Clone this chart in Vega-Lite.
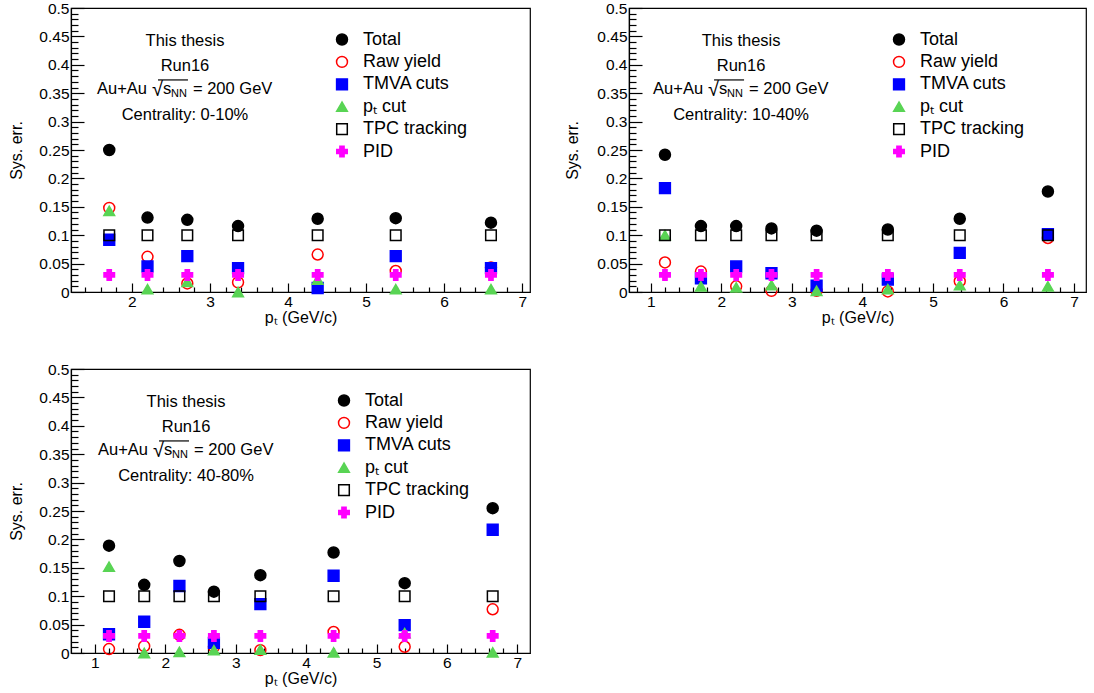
{
  "$schema": "https://vega.github.io/schema/vega-lite/v6.json",
  "background": "white",
  "padding": {"left": 8, "top": 0, "right": 0, "bottom": 0},
  "config": {
    "font": "Liberation Sans",
    "view": {"stroke": "#000000", "strokeWidth": 1.2},
    "axis": {"grid": false, "domainColor": "#000000", "tickColor": "#000000", "labelColor": "#000000", "titleColor": "#000000", "labelFont": "Liberation Sans", "titleFont": "Liberation Sans", "titleFontWeight": "normal", "labelOverlap": false, "labelFlush": false, "domainWidth": 1.2, "tickWidth": 1.2, "tickCount": 500},
    "legend": {"labelFont": "Liberation Sans"},
    "text": {"font": "Liberation Sans", "color": "#000000"}
  },
  "datasets": {
    "pts": [
      {"c": "c1", "pt": 1.71, "s": "Total", "v": 0.25},
      {"c": "c1", "pt": 2.2, "s": "Total", "v": 0.131},
      {"c": "c1", "pt": 2.71, "s": "Total", "v": 0.127},
      {"c": "c1", "pt": 3.36, "s": "Total", "v": 0.116},
      {"c": "c1", "pt": 4.38, "s": "Total", "v": 0.129},
      {"c": "c1", "pt": 5.38, "s": "Total", "v": 0.13},
      {"c": "c1", "pt": 6.6, "s": "Total", "v": 0.122},
      {"c": "c1", "pt": 1.71, "s": "Raw yield", "v": 0.148},
      {"c": "c1", "pt": 2.2, "s": "Raw yield", "v": 0.062},
      {"c": "c1", "pt": 2.71, "s": "Raw yield", "v": 0.015},
      {"c": "c1", "pt": 3.36, "s": "Raw yield", "v": 0.017},
      {"c": "c1", "pt": 4.38, "s": "Raw yield", "v": 0.066},
      {"c": "c1", "pt": 5.38, "s": "Raw yield", "v": 0.037},
      {"c": "c1", "pt": 6.6, "s": "Raw yield", "v": 0.043},
      {"c": "c1", "pt": 1.71, "s": "TMVA cuts", "v": 0.092},
      {"c": "c1", "pt": 2.2, "s": "TMVA cuts", "v": 0.045},
      {"c": "c1", "pt": 2.71, "s": "TMVA cuts", "v": 0.063},
      {"c": "c1", "pt": 3.36, "s": "TMVA cuts", "v": 0.042},
      {"c": "c1", "pt": 4.38, "s": "TMVA cuts", "v": 0.007},
      {"c": "c1", "pt": 5.38, "s": "TMVA cuts", "v": 0.063},
      {"c": "c1", "pt": 6.6, "s": "TMVA cuts", "v": 0.042},
      {"c": "c1", "pt": 1.71, "s": "pT cut", "v": 0.143},
      {"c": "c1", "pt": 2.2, "s": "pT cut", "v": 0.005},
      {"c": "c1", "pt": 2.71, "s": "pT cut", "v": 0.018},
      {"c": "c1", "pt": 3.36, "s": "pT cut", "v": 0.0},
      {"c": "c1", "pt": 4.38, "s": "pT cut", "v": 0.022},
      {"c": "c1", "pt": 5.38, "s": "pT cut", "v": 0.005},
      {"c": "c1", "pt": 6.6, "s": "pT cut", "v": 0.005},
      {"c": "c1", "pt": 1.71, "s": "TPC tracking", "v": 0.1},
      {"c": "c1", "pt": 2.2, "s": "TPC tracking", "v": 0.1},
      {"c": "c1", "pt": 2.71, "s": "TPC tracking", "v": 0.1},
      {"c": "c1", "pt": 3.36, "s": "TPC tracking", "v": 0.1},
      {"c": "c1", "pt": 4.38, "s": "TPC tracking", "v": 0.1},
      {"c": "c1", "pt": 5.38, "s": "TPC tracking", "v": 0.1},
      {"c": "c1", "pt": 6.6, "s": "TPC tracking", "v": 0.1},
      {"c": "c1", "pt": 1.71, "s": "PID", "v": 0.03},
      {"c": "c1", "pt": 2.2, "s": "PID", "v": 0.03},
      {"c": "c1", "pt": 2.71, "s": "PID", "v": 0.03},
      {"c": "c1", "pt": 3.36, "s": "PID", "v": 0.03},
      {"c": "c1", "pt": 4.38, "s": "PID", "v": 0.03},
      {"c": "c1", "pt": 5.38, "s": "PID", "v": 0.03},
      {"c": "c1", "pt": 6.6, "s": "PID", "v": 0.03},

      {"c": "c2", "pt": 1.2, "s": "Total", "v": 0.2416},
      {"c": "c2", "pt": 1.71, "s": "Total", "v": 0.116},
      {"c": "c2", "pt": 2.21, "s": "Total", "v": 0.116},
      {"c": "c2", "pt": 2.71, "s": "Total", "v": 0.112},
      {"c": "c2", "pt": 3.35, "s": "Total", "v": 0.108},
      {"c": "c2", "pt": 4.36, "s": "Total", "v": 0.11},
      {"c": "c2", "pt": 5.38, "s": "Total", "v": 0.129},
      {"c": "c2", "pt": 6.63, "s": "Total", "v": 0.177},
      {"c": "c2", "pt": 1.2, "s": "Raw yield", "v": 0.052},
      {"c": "c2", "pt": 1.71, "s": "Raw yield", "v": 0.036},
      {"c": "c2", "pt": 2.21, "s": "Raw yield", "v": 0.01},
      {"c": "c2", "pt": 2.71, "s": "Raw yield", "v": 0.002},
      {"c": "c2", "pt": 3.35, "s": "Raw yield", "v": 0.002},
      {"c": "c2", "pt": 4.36, "s": "Raw yield", "v": 0.001},
      {"c": "c2", "pt": 5.38, "s": "Raw yield", "v": 0.019},
      {"c": "c2", "pt": 6.63, "s": "Raw yield", "v": 0.095},
      {"c": "c2", "pt": 1.2, "s": "TMVA cuts", "v": 0.183},
      {"c": "c2", "pt": 1.71, "s": "TMVA cuts", "v": 0.024},
      {"c": "c2", "pt": 2.21, "s": "TMVA cuts", "v": 0.045},
      {"c": "c2", "pt": 2.71, "s": "TMVA cuts", "v": 0.033},
      {"c": "c2", "pt": 3.35, "s": "TMVA cuts", "v": 0.011},
      {"c": "c2", "pt": 4.36, "s": "TMVA cuts", "v": 0.022},
      {"c": "c2", "pt": 5.38, "s": "TMVA cuts", "v": 0.069},
      {"c": "c2", "pt": 6.63, "s": "TMVA cuts", "v": 0.102},
      {"c": "c2", "pt": 1.2, "s": "pT cut", "v": 0.1},
      {"c": "c2", "pt": 1.71, "s": "pT cut", "v": 0.01},
      {"c": "c2", "pt": 2.21, "s": "pT cut", "v": 0.008},
      {"c": "c2", "pt": 2.71, "s": "pT cut", "v": 0.012},
      {"c": "c2", "pt": 3.35, "s": "pT cut", "v": 0.002},
      {"c": "c2", "pt": 4.36, "s": "pT cut", "v": 0.005},
      {"c": "c2", "pt": 5.38, "s": "pT cut", "v": 0.012},
      {"c": "c2", "pt": 6.63, "s": "pT cut", "v": 0.01},
      {"c": "c2", "pt": 1.2, "s": "TPC tracking", "v": 0.1},
      {"c": "c2", "pt": 1.71, "s": "TPC tracking", "v": 0.1},
      {"c": "c2", "pt": 2.21, "s": "TPC tracking", "v": 0.1},
      {"c": "c2", "pt": 2.71, "s": "TPC tracking", "v": 0.1},
      {"c": "c2", "pt": 3.35, "s": "TPC tracking", "v": 0.1},
      {"c": "c2", "pt": 4.36, "s": "TPC tracking", "v": 0.1},
      {"c": "c2", "pt": 5.38, "s": "TPC tracking", "v": 0.1},
      {"c": "c2", "pt": 6.63, "s": "TPC tracking", "v": 0.1},
      {"c": "c2", "pt": 1.2, "s": "PID", "v": 0.03},
      {"c": "c2", "pt": 1.71, "s": "PID", "v": 0.03},
      {"c": "c2", "pt": 2.21, "s": "PID", "v": 0.03},
      {"c": "c2", "pt": 2.71, "s": "PID", "v": 0.03},
      {"c": "c2", "pt": 3.35, "s": "PID", "v": 0.03},
      {"c": "c2", "pt": 4.36, "s": "PID", "v": 0.03},
      {"c": "c2", "pt": 5.38, "s": "PID", "v": 0.03},
      {"c": "c2", "pt": 6.63, "s": "PID", "v": 0.03},

      {"c": "c3", "pt": 1.2, "s": "Total", "v": 0.189},
      {"c": "c3", "pt": 1.7, "s": "Total", "v": 0.12},
      {"c": "c3", "pt": 2.2, "s": "Total", "v": 0.162},
      {"c": "c3", "pt": 2.69, "s": "Total", "v": 0.108},
      {"c": "c3", "pt": 3.35, "s": "Total", "v": 0.137},
      {"c": "c3", "pt": 4.39, "s": "Total", "v": 0.177},
      {"c": "c3", "pt": 5.4, "s": "Total", "v": 0.123},
      {"c": "c3", "pt": 6.65, "s": "Total", "v": 0.255},
      {"c": "c3", "pt": 1.2, "s": "Raw yield", "v": 0.007},
      {"c": "c3", "pt": 1.7, "s": "Raw yield", "v": 0.012},
      {"c": "c3", "pt": 2.2, "s": "Raw yield", "v": 0.032},
      {"c": "c3", "pt": 2.69, "s": "Raw yield", "v": 0.011},
      {"c": "c3", "pt": 3.35, "s": "Raw yield", "v": 0.005},
      {"c": "c3", "pt": 4.39, "s": "Raw yield", "v": 0.037},
      {"c": "c3", "pt": 5.4, "s": "Raw yield", "v": 0.011},
      {"c": "c3", "pt": 6.65, "s": "Raw yield", "v": 0.077},
      {"c": "c3", "pt": 1.2, "s": "TMVA cuts", "v": 0.033},
      {"c": "c3", "pt": 1.7, "s": "TMVA cuts", "v": 0.055},
      {"c": "c3", "pt": 2.2, "s": "TMVA cuts", "v": 0.118},
      {"c": "c3", "pt": 2.69, "s": "TMVA cuts", "v": 0.018},
      {"c": "c3", "pt": 3.35, "s": "TMVA cuts", "v": 0.086},
      {"c": "c3", "pt": 4.39, "s": "TMVA cuts", "v": 0.136},
      {"c": "c3", "pt": 5.4, "s": "TMVA cuts", "v": 0.049},
      {"c": "c3", "pt": 6.65, "s": "TMVA cuts", "v": 0.217},
      {"c": "c3", "pt": 1.2, "s": "pT cut", "v": 0.152},
      {"c": "c3", "pt": 1.7, "s": "pT cut", "v": 0.0},
      {"c": "c3", "pt": 2.2, "s": "pT cut", "v": 0.002},
      {"c": "c3", "pt": 2.69, "s": "pT cut", "v": 0.005},
      {"c": "c3", "pt": 3.35, "s": "pT cut", "v": 0.006},
      {"c": "c3", "pt": 4.39, "s": "pT cut", "v": 0.001},
      {"c": "c3", "pt": 5.4, "s": "pT cut", "v": 0.035},
      {"c": "c3", "pt": 6.65, "s": "pT cut", "v": 0.001},
      {"c": "c3", "pt": 1.2, "s": "TPC tracking", "v": 0.1},
      {"c": "c3", "pt": 1.7, "s": "TPC tracking", "v": 0.1},
      {"c": "c3", "pt": 2.2, "s": "TPC tracking", "v": 0.1},
      {"c": "c3", "pt": 2.69, "s": "TPC tracking", "v": 0.1},
      {"c": "c3", "pt": 3.35, "s": "TPC tracking", "v": 0.1},
      {"c": "c3", "pt": 4.39, "s": "TPC tracking", "v": 0.1},
      {"c": "c3", "pt": 5.4, "s": "TPC tracking", "v": 0.1},
      {"c": "c3", "pt": 6.65, "s": "TPC tracking", "v": 0.1},
      {"c": "c3", "pt": 1.2, "s": "PID", "v": 0.03},
      {"c": "c3", "pt": 1.7, "s": "PID", "v": 0.03},
      {"c": "c3", "pt": 2.2, "s": "PID", "v": 0.03},
      {"c": "c3", "pt": 2.69, "s": "PID", "v": 0.03},
      {"c": "c3", "pt": 3.35, "s": "PID", "v": 0.03},
      {"c": "c3", "pt": 4.39, "s": "PID", "v": 0.03},
      {"c": "c3", "pt": 5.4, "s": "PID", "v": 0.03},
      {"c": "c3", "pt": 6.65, "s": "PID", "v": 0.03}
    ],
    "ann": [
      {"c": "c1", "t": "This thesis", "pt": 2.68, "v": 0.4427},
      {"c": "c1", "t": "Run16", "pt": 2.68, "v": 0.3986},
      {"c": "c1", "t": "Centrality: 0-10%", "pt": 2.68, "v": 0.3116},
      {"c": "c2", "t": "This thesis", "pt": 2.279, "v": 0.4427},
      {"c": "c2", "t": "Run16", "pt": 2.279, "v": 0.3986},
      {"c": "c2", "t": "Centrality: 10-40%", "pt": 2.279, "v": 0.3116},
      {"c": "c3", "t": "This thesis", "pt": 2.294, "v": 0.4427},
      {"c": "c3", "t": "Run16", "pt": 2.294, "v": 0.3986},
      {"c": "c3", "t": "Centrality: 40-80%", "pt": 2.294, "v": 0.3116}
    ],
    "en": [
      {"c": "c1", "pt": 2.68, "v": 0.3575},
      {"c": "c2", "pt": 2.279, "v": 0.3575},
      {"c": "c3", "pt": 2.294, "v": 0.3575}
    ]
  },
  "bounds": "flush",
  "columns": 2,
  "spacing": {"row": 77, "column": 99},
  "resolve": {
    "scale": {"x": "independent", "shape": "independent", "stroke": "independent", "fill": "independent", "size": "independent"},
    "legend": {"shape": "independent", "stroke": "independent", "fill": "independent", "size": "independent"}
  },
  "concat": [
    {
      "width": 459, "height": 284,
      "resolve": {"axis": {"x": "independent", "y": "independent"}},
      "layer": [
        {
          "data": {"name": "pts"}, "transform": [{"filter": "datum.c == 'c1'"}],
          "mark": {"type": "point", "strokeWidth": 1.5, "opacity": 1},
          "encoding": {
            "x": {"field": "pt", "type": "quantitative", "scale": {"domain": [1.22, 7.1], "nice": false, "zero": false},
              "axis": {"orient": "bottom", "title": "pₜ (GeV/c)", "titleFontSize": 16, "labelFontSize": 15.5, "values": [2, 3, 4, 5, 6, 7], "format": "d", "tickSize": -9, "labelPadding": 11, "titlePadding": 0}},
            "y": {"field": "v", "type": "quantitative", "scale": {"domain": [0, 0.5], "nice": false},
              "axis": {"orient": "left", "title": "Sys. err.", "titleFontSize": 16, "labelFontSize": 15.5, "values": [0, 0.05, 0.1, 0.15, 0.2, 0.25, 0.3, 0.35, 0.4, 0.45, 0.5], "labelExpr": "format(datum.value, '~g')", "tickSize": -13, "labelPadding": 15, "titlePadding": 14}},
            "shape": {"field": "s", "type": "nominal", "scale": {"domain": ["Total", "Raw yield", "TMVA cuts", "pT cut", "TPC tracking", "PID"], "range": ["circle", "circle", "square", "triangle-up", "square", "cross"]},
              "legend": {"title": null, "orient": "none", "legendX": 262, "legendY": 22.5, "labelFontSize": 18, "labelOffset": 12, "rowPadding": 4.4, "padding": 0, "symbolStrokeWidth": 1.5, "symbolOpacity": 1, "labelExpr": "datum.label == 'pT cut' ? 'pₜ cut' : datum.label"}},
            "stroke": {"field": "s", "type": "nominal", "scale": {"domain": ["Total", "Raw yield", "TMVA cuts", "pT cut", "TPC tracking", "PID"], "range": ["#000000", "#ff0000", "#0000ff", "#59d454", "#000000", "#ff00ff"]}},
            "fill": {"field": "s", "type": "nominal", "scale": {"domain": ["Total", "Raw yield", "TMVA cuts", "pT cut", "TPC tracking", "PID"], "range": ["#000000", "transparent", "#0000ff", "#59d454", "transparent", "#ff00ff"]}},
            "size": {"field": "s", "type": "nominal", "scale": {"domain": ["Total", "Raw yield", "TMVA cuts", "pT cut", "TPC tracking", "PID"], "range": [121, 110, 115, 130, 132, 121]}}
          }
        },
        {
          "data": {"name": "ann"}, "transform": [{"filter": "datum.c == 'c1'"}],
          "mark": {"type": "text", "align": "center", "baseline": "middle", "fontSize": 16.5},
          "encoding": {
            "x": {"field": "pt", "type": "quantitative", "axis": {"orient": "bottom", "title": null, "labels": false, "domain": false, "tickSize": -5, "values": [1.4,1.6,1.8,2.2,2.4,2.6,2.8,3.2,3.4,3.6,3.8,4.2,4.4,4.6,4.8,5.2,5.4,5.6,5.8,6.2,6.4,6.6,6.8]}},
            "y": {"field": "v", "type": "quantitative", "axis": {"orient": "left", "title": null, "labels": false, "domain": false, "tickSize": -7, "values": [0.01,0.02,0.03,0.04,0.06,0.07,0.08,0.09,0.11,0.12,0.13,0.14,0.16,0.17,0.18,0.19,0.21,0.22,0.23,0.24,0.26,0.27,0.28,0.29,0.31,0.32,0.33,0.34,0.36,0.37,0.38,0.39,0.41,0.42,0.43,0.44,0.46,0.47,0.48,0.49]}},
            "text": {"field": "t"}}
        },
        {
          "data": {"name": "en"}, "transform": [{"filter": "datum.c == 'c1'"}],
          "mark": {"type": "text", "text": "Au+Au", "align": "left", "baseline": "middle", "fontSize": 16.5, "dx": -88},
          "encoding": {"x": {"field": "pt", "type": "quantitative", "axis": null}, "y": {"field": "v", "type": "quantitative", "axis": null}}
        },
        {
          "data": {"name": "en"}, "transform": [{"filter": "datum.c == 'c1'"}],
          "mark": {"type": "text", "text": "√", "align": "left", "baseline": "middle", "fontSize": 20, "dx": -33, "dy": 1},
          "encoding": {"x": {"field": "pt", "type": "quantitative", "axis": null}, "y": {"field": "v", "type": "quantitative", "axis": null}}
        },
        {
          "data": {"name": "en"}, "transform": [{"filter": "datum.c == 'c1'"}],
          "mark": {"type": "text", "text": "s", "align": "left", "baseline": "middle", "fontSize": 16.5, "dx": -22},
          "encoding": {"x": {"field": "pt", "type": "quantitative", "axis": null}, "y": {"field": "v", "type": "quantitative", "axis": null}}
        },
        {
          "data": {"name": "en"}, "transform": [{"filter": "datum.c == 'c1'"}],
          "mark": {"type": "text", "text": "NN", "align": "left", "baseline": "middle", "fontSize": 11, "dx": -14, "dy": 5},
          "encoding": {"x": {"field": "pt", "type": "quantitative", "axis": null}, "y": {"field": "v", "type": "quantitative", "axis": null}}
        },
        {
          "data": {"name": "en"}, "transform": [{"filter": "datum.c == 'c1'"}],
          "mark": {"type": "text", "text": "= 200 GeV", "align": "left", "baseline": "middle", "fontSize": 16.5, "dx": 8},
          "encoding": {"x": {"field": "pt", "type": "quantitative", "axis": null}, "y": {"field": "v", "type": "quantitative", "axis": null}}
        },
        {
          "data": {"name": "en"}, "transform": [{"filter": "datum.c == 'c1'"}],
          "mark": {"type": "tick", "orient": "horizontal", "size": 30, "thickness": 1.2, "xOffset": -12, "yOffset": -9, "color": "#000000", "opacity": 1},
          "encoding": {"x": {"field": "pt", "type": "quantitative", "axis": null}, "y": {"field": "v", "type": "quantitative", "axis": null}}
        }
      ]
    },
    {
      "width": 457, "height": 284,
      "resolve": {"axis": {"x": "independent", "y": "independent"}},
      "layer": [
        {
          "data": {"name": "pts"}, "transform": [{"filter": "datum.c == 'c2'"}],
          "mark": {"type": "point", "strokeWidth": 1.5, "opacity": 1},
          "encoding": {
            "x": {"field": "pt", "type": "quantitative", "scale": {"domain": [0.69, 7.17], "nice": false, "zero": false},
              "axis": {"orient": "bottom", "title": "pₜ (GeV/c)", "titleFontSize": 16, "labelFontSize": 15.5, "values": [1, 2, 3, 4, 5, 6, 7], "format": "d", "tickSize": -9, "labelPadding": 11, "titlePadding": 0}},
            "y": {"field": "v", "type": "quantitative", "scale": {"domain": [0, 0.5], "nice": false},
              "axis": {"orient": "left", "title": "Sys. err.", "titleFontSize": 16, "labelFontSize": 15.5, "values": [0, 0.05, 0.1, 0.15, 0.2, 0.25, 0.3, 0.35, 0.4, 0.45, 0.5], "labelExpr": "format(datum.value, '~g')", "tickSize": -13, "labelPadding": 15, "titlePadding": 16}},
            "shape": {"field": "s", "type": "nominal", "scale": {"domain": ["Total", "Raw yield", "TMVA cuts", "pT cut", "TPC tracking", "PID"], "range": ["circle", "circle", "square", "triangle-up", "square", "cross"]},
              "legend": {"title": null, "orient": "none", "legendX": 261, "legendY": 22.5, "labelFontSize": 18, "labelOffset": 12, "rowPadding": 4.4, "padding": 0, "symbolStrokeWidth": 1.5, "symbolOpacity": 1, "labelExpr": "datum.label == 'pT cut' ? 'pₜ cut' : datum.label"}},
            "stroke": {"field": "s", "type": "nominal", "scale": {"domain": ["Total", "Raw yield", "TMVA cuts", "pT cut", "TPC tracking", "PID"], "range": ["#000000", "#ff0000", "#0000ff", "#59d454", "#000000", "#ff00ff"]}},
            "fill": {"field": "s", "type": "nominal", "scale": {"domain": ["Total", "Raw yield", "TMVA cuts", "pT cut", "TPC tracking", "PID"], "range": ["#000000", "transparent", "#0000ff", "#59d454", "transparent", "#ff00ff"]}},
            "size": {"field": "s", "type": "nominal", "scale": {"domain": ["Total", "Raw yield", "TMVA cuts", "pT cut", "TPC tracking", "PID"], "range": [121, 110, 115, 130, 132, 121]}}
          }
        },
        {
          "data": {"name": "ann"}, "transform": [{"filter": "datum.c == 'c2'"}],
          "mark": {"type": "text", "align": "center", "baseline": "middle", "fontSize": 16.5},
          "encoding": {
            "x": {"field": "pt", "type": "quantitative", "axis": {"orient": "bottom", "title": null, "labels": false, "domain": false, "tickSize": -5, "values": [0.8,1.2,1.4,1.6,1.8,2.2,2.4,2.6,2.8,3.2,3.4,3.6,3.8,4.2,4.4,4.6,4.8,5.2,5.4,5.6,5.8,6.2,6.4,6.6,6.8]}},
            "y": {"field": "v", "type": "quantitative", "axis": {"orient": "left", "title": null, "labels": false, "domain": false, "tickSize": -7, "values": [0.01,0.02,0.03,0.04,0.06,0.07,0.08,0.09,0.11,0.12,0.13,0.14,0.16,0.17,0.18,0.19,0.21,0.22,0.23,0.24,0.26,0.27,0.28,0.29,0.31,0.32,0.33,0.34,0.36,0.37,0.38,0.39,0.41,0.42,0.43,0.44,0.46,0.47,0.48,0.49]}},
            "text": {"field": "t"}}
        },
        {
          "data": {"name": "en"}, "transform": [{"filter": "datum.c == 'c2'"}],
          "mark": {"type": "text", "text": "Au+Au", "align": "left", "baseline": "middle", "fontSize": 16.5, "dx": -88},
          "encoding": {"x": {"field": "pt", "type": "quantitative", "axis": null}, "y": {"field": "v", "type": "quantitative", "axis": null}}
        },
        {
          "data": {"name": "en"}, "transform": [{"filter": "datum.c == 'c2'"}],
          "mark": {"type": "text", "text": "√", "align": "left", "baseline": "middle", "fontSize": 20, "dx": -33, "dy": 1},
          "encoding": {"x": {"field": "pt", "type": "quantitative", "axis": null}, "y": {"field": "v", "type": "quantitative", "axis": null}}
        },
        {
          "data": {"name": "en"}, "transform": [{"filter": "datum.c == 'c2'"}],
          "mark": {"type": "text", "text": "s", "align": "left", "baseline": "middle", "fontSize": 16.5, "dx": -22},
          "encoding": {"x": {"field": "pt", "type": "quantitative", "axis": null}, "y": {"field": "v", "type": "quantitative", "axis": null}}
        },
        {
          "data": {"name": "en"}, "transform": [{"filter": "datum.c == 'c2'"}],
          "mark": {"type": "text", "text": "NN", "align": "left", "baseline": "middle", "fontSize": 11, "dx": -14, "dy": 5},
          "encoding": {"x": {"field": "pt", "type": "quantitative", "axis": null}, "y": {"field": "v", "type": "quantitative", "axis": null}}
        },
        {
          "data": {"name": "en"}, "transform": [{"filter": "datum.c == 'c2'"}],
          "mark": {"type": "text", "text": "= 200 GeV", "align": "left", "baseline": "middle", "fontSize": 16.5, "dx": 8},
          "encoding": {"x": {"field": "pt", "type": "quantitative", "axis": null}, "y": {"field": "v", "type": "quantitative", "axis": null}}
        },
        {
          "data": {"name": "en"}, "transform": [{"filter": "datum.c == 'c2'"}],
          "mark": {"type": "tick", "orient": "horizontal", "size": 30, "thickness": 1.2, "xOffset": -12, "yOffset": -9, "color": "#000000", "opacity": 1},
          "encoding": {"x": {"field": "pt", "type": "quantitative", "axis": null}, "y": {"field": "v", "type": "quantitative", "axis": null}}
        }
      ]
    },
    {
      "width": 459, "height": 284,
      "resolve": {"axis": {"x": "independent", "y": "independent"}},
      "layer": [
        {
          "data": {"name": "pts"}, "transform": [{"filter": "datum.c == 'c3'"}],
          "mark": {"type": "point", "strokeWidth": 1.5, "opacity": 1},
          "encoding": {
            "x": {"field": "pt", "type": "quantitative", "scale": {"domain": [0.66, 7.18], "nice": false, "zero": false},
              "axis": {"orient": "bottom", "title": "pₜ (GeV/c)", "titleFontSize": 16, "labelFontSize": 15.5, "values": [1, 2, 3, 4, 5, 6, 7], "format": "d", "tickSize": -9, "labelPadding": 11, "titlePadding": 0}},
            "y": {"field": "v", "type": "quantitative", "scale": {"domain": [0, 0.5], "nice": false},
              "axis": {"orient": "left", "title": "Sys. err.", "titleFontSize": 16, "labelFontSize": 15.5, "values": [0, 0.05, 0.1, 0.15, 0.2, 0.25, 0.3, 0.35, 0.4, 0.45, 0.5], "labelExpr": "format(datum.value, '~g')", "tickSize": -13, "labelPadding": 15, "titlePadding": 14}},
            "shape": {"field": "s", "type": "nominal", "scale": {"domain": ["Total", "Raw yield", "TMVA cuts", "pT cut", "TPC tracking", "PID"], "range": ["circle", "circle", "square", "triangle-up", "square", "cross"]},
              "legend": {"title": null, "orient": "none", "legendX": 264, "legendY": 22.5, "labelFontSize": 18, "labelOffset": 12, "rowPadding": 4.4, "padding": 0, "symbolStrokeWidth": 1.5, "symbolOpacity": 1, "labelExpr": "datum.label == 'pT cut' ? 'pₜ cut' : datum.label"}},
            "stroke": {"field": "s", "type": "nominal", "scale": {"domain": ["Total", "Raw yield", "TMVA cuts", "pT cut", "TPC tracking", "PID"], "range": ["#000000", "#ff0000", "#0000ff", "#59d454", "#000000", "#ff00ff"]}},
            "fill": {"field": "s", "type": "nominal", "scale": {"domain": ["Total", "Raw yield", "TMVA cuts", "pT cut", "TPC tracking", "PID"], "range": ["#000000", "transparent", "#0000ff", "#59d454", "transparent", "#ff00ff"]}},
            "size": {"field": "s", "type": "nominal", "scale": {"domain": ["Total", "Raw yield", "TMVA cuts", "pT cut", "TPC tracking", "PID"], "range": [121, 110, 115, 130, 132, 121]}}
          }
        },
        {
          "data": {"name": "ann"}, "transform": [{"filter": "datum.c == 'c3'"}],
          "mark": {"type": "text", "align": "center", "baseline": "middle", "fontSize": 16.5},
          "encoding": {
            "x": {"field": "pt", "type": "quantitative", "axis": {"orient": "bottom", "title": null, "labels": false, "domain": false, "tickSize": -5, "values": [0.8,1.2,1.4,1.6,1.8,2.2,2.4,2.6,2.8,3.2,3.4,3.6,3.8,4.2,4.4,4.6,4.8,5.2,5.4,5.6,5.8,6.2,6.4,6.6,6.8]}},
            "y": {"field": "v", "type": "quantitative", "axis": {"orient": "left", "title": null, "labels": false, "domain": false, "tickSize": -7, "values": [0.01,0.02,0.03,0.04,0.06,0.07,0.08,0.09,0.11,0.12,0.13,0.14,0.16,0.17,0.18,0.19,0.21,0.22,0.23,0.24,0.26,0.27,0.28,0.29,0.31,0.32,0.33,0.34,0.36,0.37,0.38,0.39,0.41,0.42,0.43,0.44,0.46,0.47,0.48,0.49]}},
            "text": {"field": "t"}}
        },
        {
          "data": {"name": "en"}, "transform": [{"filter": "datum.c == 'c3'"}],
          "mark": {"type": "text", "text": "Au+Au", "align": "left", "baseline": "middle", "fontSize": 16.5, "dx": -88},
          "encoding": {"x": {"field": "pt", "type": "quantitative", "axis": null}, "y": {"field": "v", "type": "quantitative", "axis": null}}
        },
        {
          "data": {"name": "en"}, "transform": [{"filter": "datum.c == 'c3'"}],
          "mark": {"type": "text", "text": "√", "align": "left", "baseline": "middle", "fontSize": 20, "dx": -33, "dy": 1},
          "encoding": {"x": {"field": "pt", "type": "quantitative", "axis": null}, "y": {"field": "v", "type": "quantitative", "axis": null}}
        },
        {
          "data": {"name": "en"}, "transform": [{"filter": "datum.c == 'c3'"}],
          "mark": {"type": "text", "text": "s", "align": "left", "baseline": "middle", "fontSize": 16.5, "dx": -22},
          "encoding": {"x": {"field": "pt", "type": "quantitative", "axis": null}, "y": {"field": "v", "type": "quantitative", "axis": null}}
        },
        {
          "data": {"name": "en"}, "transform": [{"filter": "datum.c == 'c3'"}],
          "mark": {"type": "text", "text": "NN", "align": "left", "baseline": "middle", "fontSize": 11, "dx": -14, "dy": 5},
          "encoding": {"x": {"field": "pt", "type": "quantitative", "axis": null}, "y": {"field": "v", "type": "quantitative", "axis": null}}
        },
        {
          "data": {"name": "en"}, "transform": [{"filter": "datum.c == 'c3'"}],
          "mark": {"type": "text", "text": "= 200 GeV", "align": "left", "baseline": "middle", "fontSize": 16.5, "dx": 8},
          "encoding": {"x": {"field": "pt", "type": "quantitative", "axis": null}, "y": {"field": "v", "type": "quantitative", "axis": null}}
        },
        {
          "data": {"name": "en"}, "transform": [{"filter": "datum.c == 'c3'"}],
          "mark": {"type": "tick", "orient": "horizontal", "size": 30, "thickness": 1.2, "xOffset": -12, "yOffset": -9, "color": "#000000", "opacity": 1},
          "encoding": {"x": {"field": "pt", "type": "quantitative", "axis": null}, "y": {"field": "v", "type": "quantitative", "axis": null}}
        }
      ]
    }
  ]
}
